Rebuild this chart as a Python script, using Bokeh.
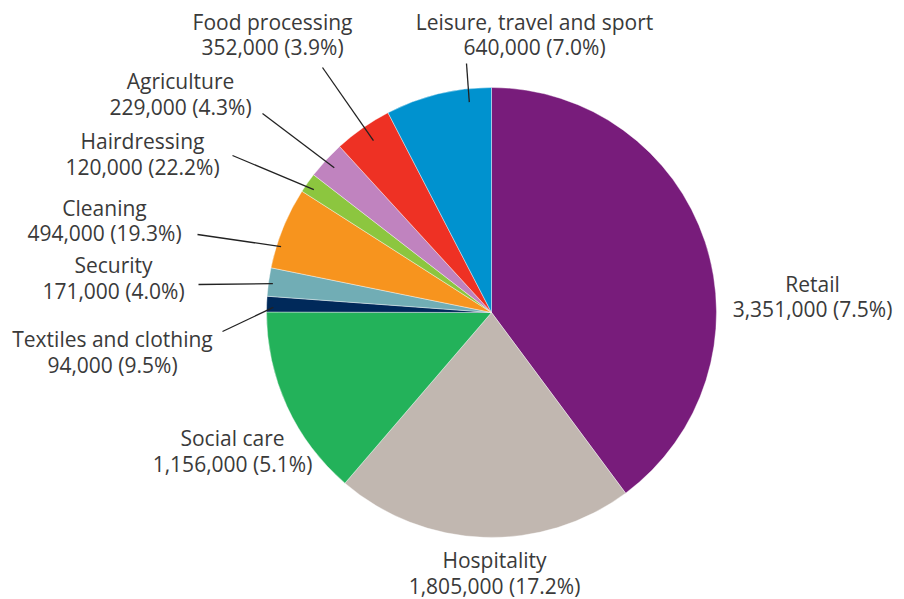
import numpy as np
from bokeh.plotting import figure
from bokeh.models import ColumnDataSource, Range1d
from bokeh.embed import file_html
from bokeh.resources import INLINE
from bokeh.core.properties import value

# ---- data ----
categories = ["Retail", "Hospitality", "Social care", "Textiles and clothing",
              "Security", "Cleaning", "Hairdressing", "Agriculture",
              "Food processing", "Leisure, travel and sport"]
workers = [3351000, 1805000, 1156000, 94000, 171000, 494000, 120000, 229000,
           352000, 640000]
share_labels = ["7.5%", "17.2%", "5.1%", "9.5%", "4.0%", "19.3%", "22.2%",
                "4.3%", "3.9%", "7.0%"]
colors = ["#781c7b", "#c1b7b0", "#23b25a", "#00295a", "#71adb5", "#f7941e",
          "#8cc63f", "#c083bf", "#ee3124", "#0092cf"]

# ---- layout (screen pixels in the 904x599 picture) ----
W, H = 904, 599
CX, CY, R = 491, 312, 225
label_pos = {
    "Retail": (812, 296), "Hospitality": (494, 572.5), "Social care": (232, 450.5),
    "Textiles and clothing": (112, 351.5), "Security": (113, 277.5),
    "Cleaning": (104, 220), "Hairdressing": (142, 153.5), "Agriculture": (180, 93.5),
    "Food processing": (272, 34), "Leisure, travel and sport": (534, 34),
}
# leader: outer start (screen), fraction along slice, fraction of radius
leaders = {
    "Textiles and clothing": ((222, 331), 0.3, 0.97),
    "Security": ((198, 284), 0.46, 0.98),
    "Cleaning": ((197, 234), 0.28, 0.98),
    "Hairdressing": ((232, 155), 0.4, 0.96),
    "Agriculture": ((262, 113), 0.5, 0.95),
    "Food processing": ((322, 67), 0.53, 0.927),
    "Leisure, travel and sport": ((466, 63), 0.78, 0.94),
}

def dy(sy):
    return H - sy

total = float(sum(workers))
frac = np.array(workers) / total
cum_end = np.cumsum(frac)
cum_start = cum_end - frac
# clockwise from top
start_angle = np.pi / 2 - cum_end * 2 * np.pi
end_angle = np.pi / 2 - cum_start * 2 * np.pi

src = ColumnDataSource(dict(cat=categories, start=start_angle, end=end_angle, color=colors))

p = figure(width=W, height=H, output_backend="svg", toolbar_location=None,
           x_range=Range1d(0, W), y_range=Range1d(0, H), min_border=0)
p.axis.visible = False
p.grid.visible = False
p.outline_line_color = None
p.background_fill_color = "white"

p.wedge(x=CX, y=dy(CY), radius=R, start_angle="start", end_angle="end",
        fill_color="color", line_color="white", line_width=0.4, source=src)

# leaders
xs, ys = [], []
for i, cat in enumerate(categories):
    if cat not in leaders:
        continue
    (sx, sy), f, rf = leaders[cat]
    a = end_angle[i] + f * (start_angle[i] - end_angle[i])
    ex = CX + rf * R * np.cos(a)
    ey = dy(CY) + rf * R * np.sin(a)
    xs.append([sx, ex])
    ys.append([dy(sy), ey])
p.multi_line(xs=xs, ys=ys, line_color="#222222", line_width=1.3)

# labels
texts, lx, ly = [], [], []
for cat, v, s in zip(categories, workers, share_labels):
    texts.append(f"{cat}\n{v:,} ({s})")
    x, y = label_pos[cat]
    lx.append(x)
    ly.append(dy(y))
p.text(x=lx, y=ly, text=texts, text_align="center", text_baseline="middle",
       text_font=value("Open Sans"), text_font_size="21px",
       text_color="#3a3a3a", text_line_height=0.92)

open("out.html", "w").write(file_html(p, INLINE))
